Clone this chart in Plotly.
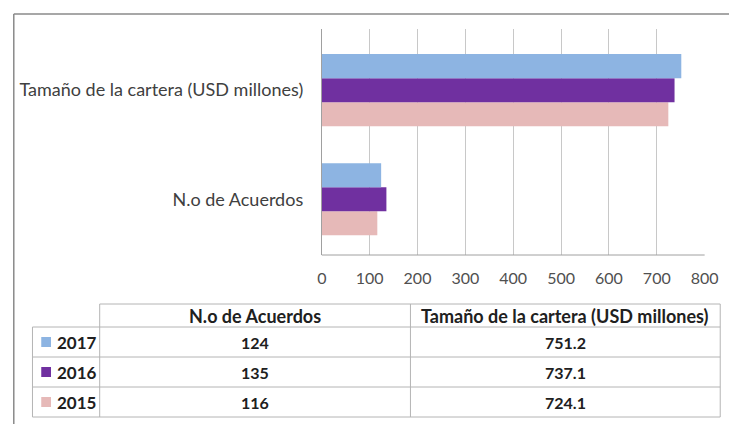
import plotly.graph_objects as go

# ---- data ----
categories = ["N.o de Acuerdos", "Tamaño de la cartera (USD millones)"]
years = ["2015", "2016", "2017"]
values_2015 = [116, 724.1]
values_2016 = [135, 737.1]
values_2017 = [124, 751.2]
value_labels_2015 = ["116", "724.1"]
value_labels_2016 = ["135", "737.1"]
value_labels_2017 = ["124", "751.2"]
x_ticks = [0, 100, 200, 300, 400, 500, 600, 700, 800]

colors = {"2015": "#E6B9B8", "2016": "#7030A0", "2017": "#8DB4E2"}
series = {"2015": values_2015, "2016": values_2016, "2017": values_2017}
labels = {"2015": value_labels_2015, "2016": value_labels_2016, "2017": value_labels_2017}

# page body has an 8px margin; figure spans page x 8..743 and y 8..424
OFF = 8
W, H = 743 - OFF, 432 - 2 * OFF
FONT = "Lato"


def px(x):
    v = (x - OFF) / W
    return min(v, (742.5 - OFF) / W)


def py(y):
    return 1 - (y - OFF) / H


fig = go.Figure()
for yr in years:
    fig.add_trace(go.Bar(
        y=categories, x=series[yr], orientation="h", name=yr,
        marker=dict(color=colors[yr], line=dict(width=0)),
        showlegend=False,
    ))

fig.update_layout(
    width=W, height=H,
    margin=dict(l=0, r=0, t=0, b=0),
    paper_bgcolor="white", plot_bgcolor="white",
    barmode="group", bargap=0.34, bargroupgap=0,
    font=dict(family=FONT, color="#404040"),
    xaxis=dict(
        domain=[px(325), px(718)], range=[0, 800], tickvals=x_ticks,
        showgrid=True, gridcolor="#C8C8C8", gridwidth=1,
        zeroline=False, showline=False,
        tickfont=dict(family=FONT, size=16, color="#505050"),
        ticks="", ticklabelstandoff=12,
    ),
    yaxis=dict(
        domain=[py(255), py(29)], range=[-0.51, 1.56],
        type="category", showgrid=False, zeroline=False,
        showline=True, linecolor="#A0A0A0", linewidth=1,
        tickfont=dict(family=FONT, size=18, color="#404040"),
        ticks="", ticklabelstandoff=14,
    ),
)

shapes = []
annotations = []

# bottom axis line of plot area
shapes.append(dict(type="line", xref="paper", yref="paper",
                   x0=px(325), x1=px(718), y0=py(255), y1=py(255),
                   line=dict(color="#A0A0A0", width=1)))

# outer chart border (top and left visible)
shapes.append(dict(type="line", xref="paper", yref="paper",
                   x0=px(8.8), x1=1, y0=py(14), y1=py(14),
                   line=dict(color="#8A8A8A", width=1.5)))
shapes.append(dict(type="line", xref="paper", yref="paper",
                   x0=px(8.8), x1=px(8.8), y0=py(14), y1=0,
                   line=dict(color="#8A8A8A", width=1.5)))

# ---- data table ----
grid = "#B4B4B4"
col_x = [28, 97, 416, 734]
row_y = [304, 327, 357, 387, 417]


def hline(x0, x1, y):
    shapes.append(dict(type="line", xref="paper", yref="paper",
                       x0=px(x0), x1=px(x1), y0=py(y), y1=py(y),
                       line=dict(color=grid, width=1)))


def vline(x, y0, y1):
    shapes.append(dict(type="line", xref="paper", yref="paper",
                       x0=px(x), x1=px(x), y0=py(y0), y1=py(y1),
                       line=dict(color=grid, width=1)))


hline(col_x[1], col_x[3], row_y[0])
for yv in row_y[1:]:
    hline(col_x[0], col_x[3], yv)
vline(col_x[0], row_y[1], row_y[4])
vline(col_x[1], row_y[0], row_y[4])
vline(col_x[2], row_y[0], row_y[4])
vline(col_x[3], row_y[0], row_y[4])

# header
for i, cat in enumerate(categories):
    cx = (col_x[i + 1] + col_x[i + 2]) / 2
    annotations.append(dict(xref="paper", yref="paper", x=px(cx),
                            y=py((row_y[0] + row_y[1]) / 2), text="<b>%s</b>" % cat,
                            showarrow=False, xanchor="center", yanchor="middle",
                            font=dict(family=FONT, size=18, color="#202020")))

# rows: 2017, 2016, 2015
for r, yr in enumerate(["2017", "2016", "2015"]):
    ymid = (row_y[r + 1] + row_y[r + 2]) / 2
    shapes.append(dict(type="rect", xref="paper", yref="paper",
                       x0=px(37), x1=px(47), y0=py(ymid + 5), y1=py(ymid - 5),
                       fillcolor=colors[yr], line=dict(width=0)))
    annotations.append(dict(xref="paper", yref="paper", x=px(51), y=py(ymid),
                            text="<b>%s</b>" % yr, showarrow=False,
                            xanchor="left", yanchor="middle",
                            font=dict(family=FONT, size=17, color="#202020")))
    for i in range(len(categories)):
        cx = (col_x[i + 1] + col_x[i + 2]) / 2
        annotations.append(dict(xref="paper", yref="paper", x=px(cx), y=py(ymid),
                                text="<b>%s</b>" % labels[yr][i], showarrow=False,
                                xanchor="center", yanchor="middle",
                                font=dict(family=FONT, size=16, color="#202020")))

fig.update_layout(shapes=shapes, annotations=annotations)
fig.write_html("out.html")
